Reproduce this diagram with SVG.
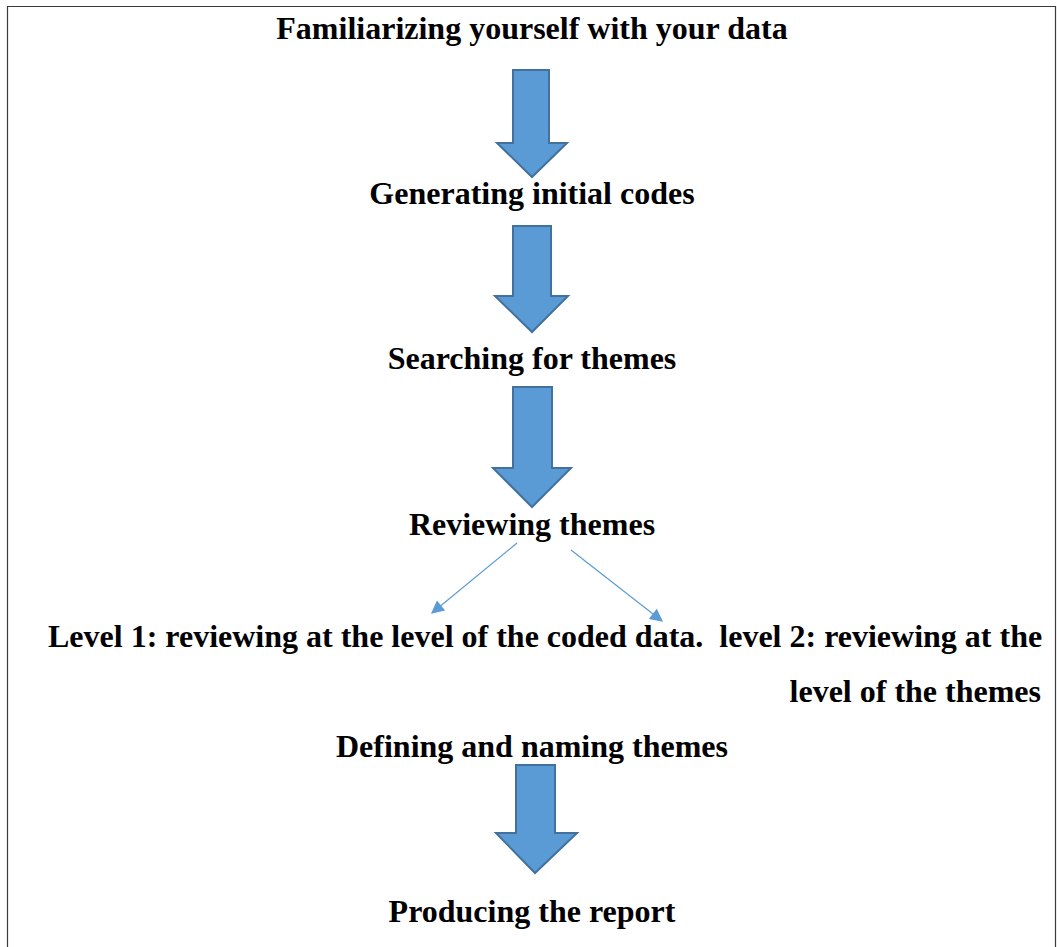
<svg xmlns="http://www.w3.org/2000/svg" width="1057" height="947" viewBox="0 0 1057 947">
  <defs>
    <style>
      .t { font-family: "Liberation Serif", "Times New Roman", serif; font-weight: bold; font-size: 32px; fill: #000; white-space: pre; }
      .c { text-anchor: middle; }
      .r { text-anchor: end; }
      .blk { fill: #5B9BD5; stroke: #41719C; stroke-width: 2; stroke-linejoin: miter; }
      .thin { stroke: #5B9BD5; stroke-width: 1.2; fill: none; }
    </style>
    <marker id="head" viewBox="0 0 10 10" refX="9" refY="5" markerWidth="15" markerHeight="13" markerUnits="userSpaceOnUse" orient="auto">
      <path d="M0,0 L10,5 L0,10 z" fill="#5B9BD5"/>
    </marker>
  </defs>
  <rect width="1057" height="947" fill="#fff"/>
  <!-- frame (open at the bottom) -->
  <path d="M7.5,947 V6.5 H1055.5 V947" fill="none" stroke="#3a3a3a" stroke-width="1.2"/>

  <g id="step1"><text class="t c" x="532" y="39">Familiarizing yourself with your data</text></g>
  <g id="step2"><text class="t c" x="532" y="204">Generating initial codes</text></g>
  <g id="step3"><text class="t c" x="532" y="369">Searching for themes</text></g>
  <g id="step4"><text class="t c" x="532" y="535">Reviewing themes</text></g>
  <g id="levels">
    <text class="t" x="48" y="647" xml:space="preserve">Level 1: reviewing at the level of the coded data.  level 2: reviewing at the</text>
    <text class="t r" x="1041" y="702">level of the themes</text>
  </g>
  <g id="step5"><text class="t c" x="532" y="757">Defining and naming themes</text></g>
  <g id="step6"><text class="t c" x="532" y="922">Producing the report</text></g>

  <g id="connectors">
    <path class="blk" d="M513,70 H549 V143 H567 L532,177 L497,143 H513 Z"/>
    <path class="blk" d="M513,226 H551 V296 H568 L532,332 L495,296 H513 Z"/>
    <path class="blk" d="M513,387 H552 V468 H571 L532,507 L493,468 H513 Z"/>
    <path class="blk" d="M516,765 H555 V833 H577 L535,873 L496,833 H516 Z"/>
    <line class="thin" x1="517" y1="543" x2="432" y2="613" marker-end="url(#head)"/>
    <line class="thin" x1="571" y1="550" x2="662" y2="621" marker-end="url(#head)"/>
  </g>
</svg>
